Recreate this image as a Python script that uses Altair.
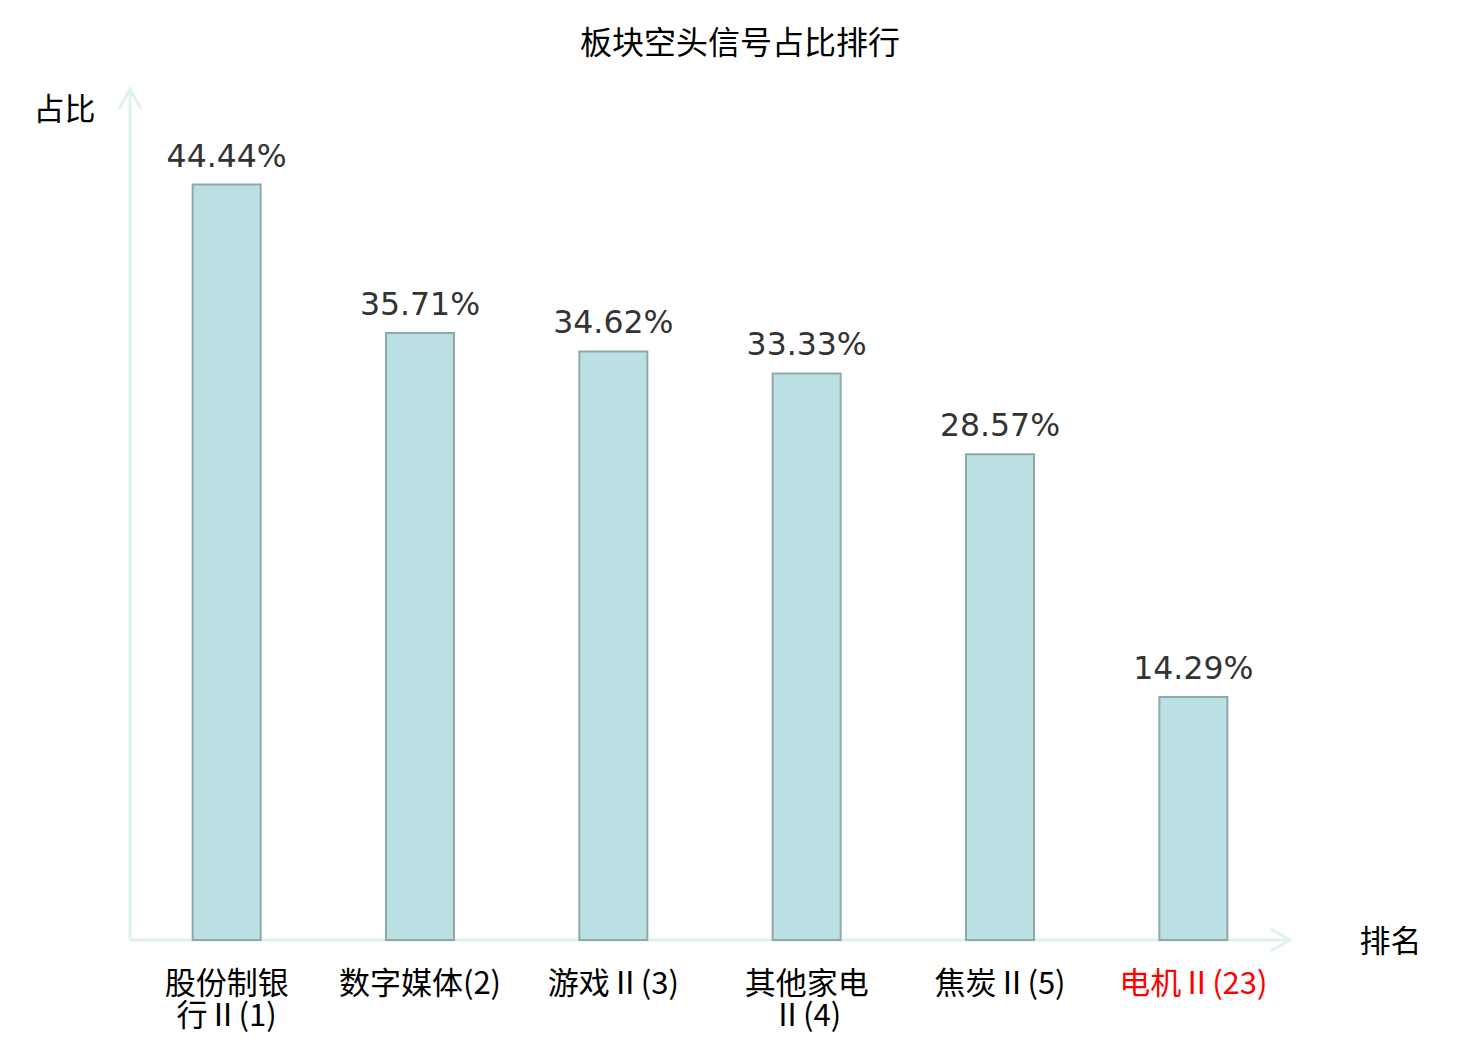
import altair as alt
import pandas as pd

# ---- data ----
categories = ["股份制银\n行Ⅱ(1)", "数字媒体(2)", "游戏Ⅱ(3)", "其他家电\nⅡ(4)", "焦炭Ⅱ(5)", "电机Ⅱ(23)"]
values = [44.44, 35.71, 34.62, 33.33, 28.57, 14.29]
value_labels = ["44.44%", "35.71%", "34.62%", "33.33%", "28.57%", "14.29%"]
highlight_category = "电机Ⅱ(23)"

df = pd.DataFrame({"cat": categories, "val": values, "lab": value_labels})

CJK = "Noto Sans CJK SC"
AXIS_COLOR = "#dff2ef"
W, H = 1160, 850

x_enc = alt.X(
    "cat:N",
    sort=None,
    scale=alt.Scale(paddingInner=0, paddingOuter=0),
    axis=alt.Axis(
        title="排名",
        titleX=1260,
        titleY=2,
        titleAlign="center",
        titleBaseline="middle",
        titleAngle=0,
        titleFont=CJK,
        titleFontSize=31,
        titleFontWeight="normal",
        titleColor="#000000",
        labelAngle=0,
        labelFont=CJK,
        labelFontSize=31,
        labelLineHeight=32,
        labelPadding=29,
        labelBaseline="top",
        labelExpr="split(datum.label, '\\n')",
        labelColor=alt.expr(f"datum.value == '{highlight_category}' ? '#ff0000' : '#000000'"),
        ticks=False,
        domain=False,
        grid=False,
    ),
)

y_enc = alt.Y(
    "val:Q",
    scale=alt.Scale(domain=[0, 50]),
    axis=alt.Axis(
        title="占比",
        titleX=-66,
        titleY=20,
        titleAngle=0,
        titleAlign="center",
        titleBaseline="middle",
        titleFont=CJK,
        titleFontSize=31,
        titleFontWeight="normal",
        titleColor="#000000",
        labels=False,
        ticks=False,
        domain=False,
        grid=False,
    ),
)

bars = alt.Chart(df).mark_bar(
    size=68, fill="#bbe0e3", stroke="#8fa9aa", strokeWidth=2
).encode(x=x_enc, y=y_enc)

texts = alt.Chart(df).mark_text(
    font="DejaVu Sans", fontSize=31.5, color="#333333", baseline="alphabetic", dy=-18
).encode(x=alt.X("cat:N", sort=None), y="val:Q", text="lab:N")

one = alt.Data(values=[{"a": 1}])

y_line = alt.Chart(one).mark_rule(color=AXIS_COLOR, strokeWidth=3).encode(
    x=alt.value(0), y=alt.value(0), y2=alt.value(H)
)
x_line = alt.Chart(one).mark_rule(color=AXIS_COLOR, strokeWidth=3).encode(
    x=alt.value(0), x2=alt.value(W), y=alt.value(H)
)
y_head = alt.Chart(one).mark_point(
    shape="M-1,1.8L0,0L1,1.8", filled=False, stroke=AXIS_COLOR, strokeWidth=3, size=480, opacity=1
).encode(x=alt.value(0), y=alt.value(-1))
x_head = alt.Chart(one).mark_point(
    shape="M-1.8,-1L0,0L-1.8,1", filled=False, stroke=AXIS_COLOR, strokeWidth=3, size=480, opacity=1
).encode(x=alt.value(W), y=alt.value(H))

chart = (
    alt.layer(y_line, x_line, y_head, x_head, bars, texts)
    .properties(
        width=W,
        height=H,
        background="#ffffff",
        title=alt.TitleParams(
            "板块空头信号占比排行",
            font=CJK,
            fontSize=32,
            fontWeight="normal",
            color="#000000",
            anchor="middle",
            dx=30,
            offset=22,
        ),
        autosize=alt.AutoSizeParams(type="none"),
        padding={"left": 122, "top": 82, "right": 182, "bottom": 92},
    )
    .configure_view(stroke=None, strokeWidth=0)
)

chart.save("out.html", embed_options={"renderer": "svg", "actions": False})
